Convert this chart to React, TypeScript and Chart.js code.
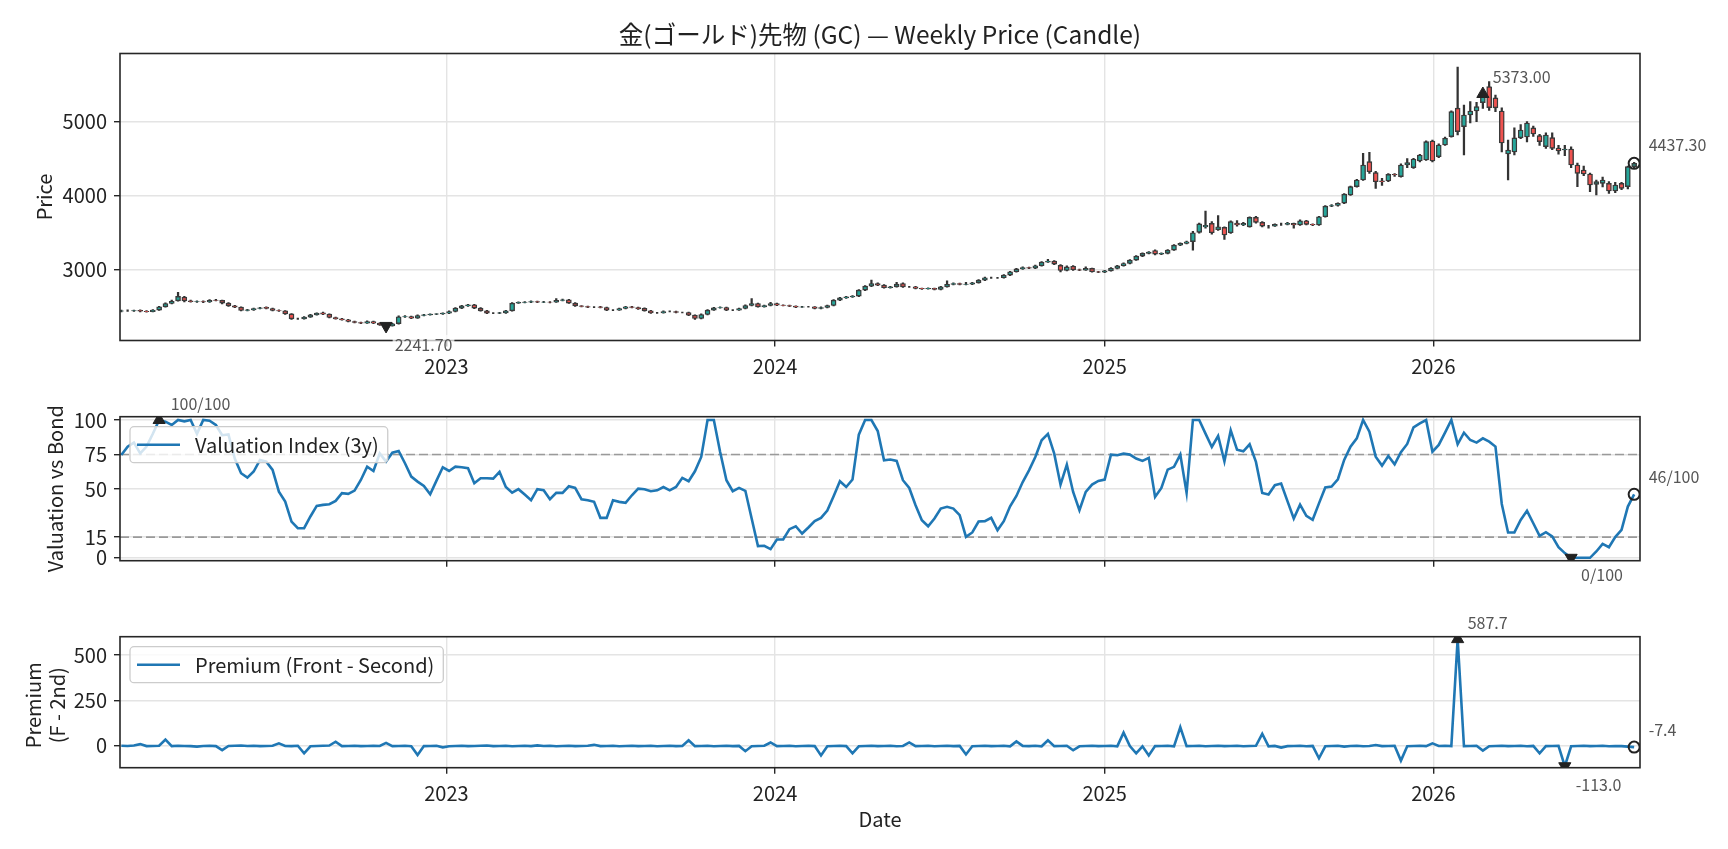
import React, { useEffect, useRef } from 'react';
import { Chart, registerables } from 'chart.js';

Chart.register(...registerables);

const FONT = '"Noto Sans CJK JP", "Noto Sans", sans-serif';
const TEXT = '#222222';
const ANN = '#555555';
const GRID = '#e4e4e4';
const SPINE = '#262626';
const BLUE = '#1f77b4';
const UP = '#26a69a';
const DOWN = '#ef5350';
const EDGE = '#3a3a3a';
const W = 1728;
const PLOT_LEFT = 120;
const PLOT_RIGHT = 1640;

const TITLE = '金(ゴールド)先物 (GC) — Weekly Price (Candle)';
const PRICE_LABEL = 'Price';
const VAL_LABEL = 'Valuation vs Bond';
const PREM_LABEL = ['Premium', '(F - 2nd)'];
const VAL_SERIES = 'Valuation Index (3y)';
const PREM_SERIES = 'Premium (Front - Second)';
const X_LABEL = 'Date';

const YEAR_TICKS = [2023, 2024, 2025, 2026];
const PRICE_TICKS = [3000, 4000, 5000];
const VAL_TICKS = [0, 15, 50, 75, 100];
const PREM_TICKS = [0, 250, 500];
const VAL_BANDS = [75, 15];

const OPEN = [
  2440, 2446, 2446, 2452, 2440, 2435, 2455, 2500, 2545, 2580,
  2630, 2582, 2570, 2572, 2565, 2590, 2586, 2550, 2513, 2495,
  2450, 2459, 2477, 2492, 2477, 2450, 2446, 2405, 2338, 2338,
  2360, 2392, 2420, 2401, 2356, 2338, 2324, 2302, 2288, 2279,
  2302, 2279, 2257, 2242, 2272, 2365, 2369, 2347, 2383, 2392,
  2401, 2405, 2414, 2437, 2482, 2513, 2527, 2482, 2446, 2414,
  2414, 2418, 2446, 2550, 2559, 2563, 2572, 2563, 2565, 2563,
  2586, 2595, 2550, 2513, 2504, 2495, 2500, 2490, 2455, 2455,
  2477, 2500, 2491, 2480, 2446, 2419, 2419, 2437, 2437, 2423,
  2423, 2387, 2342, 2396, 2455, 2486, 2491, 2455, 2455, 2477,
  2518, 2545, 2500, 2518, 2545, 2522, 2518, 2509, 2495, 2500,
  2500, 2477, 2491, 2518, 2590, 2621, 2635, 2644, 2725, 2779,
  2815, 2793, 2757, 2770, 2815, 2770, 2770, 2748, 2743, 2748,
  2734, 2770, 2802, 2815, 2802, 2806, 2824, 2860, 2892, 2892,
  2892, 2928, 2973, 3013, 3031, 3022, 3054, 3104, 3117, 3060,
  2990, 3048, 3000, 2995, 3018, 2973, 2968, 2986, 3018, 3054,
  3085, 3131, 3185, 3221, 3260, 3212, 3221, 3266, 3333, 3356,
  3380, 3505, 3580, 3626, 3540, 3572, 3500, 3630, 3604, 3580,
  3707, 3640, 3590, 3590, 3613, 3613, 3626, 3604, 3662, 3613,
  3604, 3716, 3860, 3868, 3900, 4010, 4122, 4212, 4460, 4311,
  4200, 4198, 4288, 4257, 4414, 4380, 4469, 4482, 4739, 4527,
  4685, 4797, 5183, 4932, 5090, 5144, 5257, 5473, 5320, 5144,
  4563, 4590, 4780, 4793, 4915, 4811, 4662, 4784, 4644, 4617,
  4630, 4414, 4347, 4293, 4153, 4167, 4167, 4063, 4167, 4122,
  4392,
];

const HIGH = [
  2455, 2458, 2456, 2460, 2448, 2462, 2508, 2552, 2590, 2694,
  2640, 2590, 2582, 2580, 2598, 2600, 2590, 2556, 2520, 2500,
  2466, 2484, 2494, 2500, 2482, 2458, 2450, 2410, 2348, 2368,
  2398, 2420, 2428, 2406, 2362, 2344, 2330, 2308, 2294, 2310,
  2306, 2284, 2262, 2276, 2378, 2382, 2374, 2390, 2398, 2406,
  2410, 2420, 2444, 2490, 2520, 2535, 2534, 2488, 2452, 2422,
  2426, 2452, 2556, 2566, 2570, 2580, 2578, 2574, 2570, 2612,
  2604, 2600, 2556, 2518, 2510, 2502, 2506, 2496, 2462, 2484,
  2506, 2506, 2496, 2486, 2452, 2426, 2444, 2444, 2442, 2430,
  2428, 2392, 2404, 2462, 2494, 2498, 2496, 2462, 2484, 2526,
  2610, 2550, 2524, 2560, 2550, 2528, 2522, 2514, 2506, 2506,
  2504, 2498, 2524, 2598, 2628, 2642, 2652, 2734, 2788, 2862,
  2822, 2800, 2778, 2830, 2822, 2776, 2776, 2754, 2756, 2754,
  2778, 2850, 2824, 2820, 2830, 2832, 2868, 2900, 2900, 2898,
  2936, 2980, 3020, 3038, 3036, 3062, 3112, 3140, 3124, 3070,
  3054, 3055, 3010, 3040, 3024, 2980, 2994, 3030, 3060, 3092,
  3138, 3192, 3230, 3246, 3268, 3228, 3274, 3340, 3364, 3386,
  3520, 3630, 3793, 3650, 3730, 3580, 3660, 3665, 3640, 3715,
  3720, 3650, 3600, 3620, 3630, 3640, 3632, 3675, 3668, 3620,
  3722, 3866, 3880, 3904, 4030, 4130, 4220, 4572, 4586, 4330,
  4236, 4300, 4300, 4430, 4500, 4505, 4560, 4740, 4750, 4700,
  4790, 5145, 5735, 5225, 5270, 5260, 5400, 5540, 5360, 5185,
  4752, 4915, 4960, 5000, 4940, 4830, 4850, 4850, 4680, 4680,
  4660, 4441, 4400, 4306, 4212, 4250, 4190, 4180, 4180, 4400,
  4450,
];

const LOW = [
  2432, 2436, 2438, 2432, 2428, 2430, 2450, 2494, 2540, 2575,
  2565, 2562, 2560, 2555, 2560, 2578, 2540, 2505, 2488, 2444,
  2444, 2452, 2470, 2470, 2444, 2438, 2398, 2330, 2328, 2332,
  2355, 2386, 2394, 2350, 2332, 2318, 2296, 2282, 2272, 2274,
  2272, 2250, 2236, 2238, 2266, 2356, 2340, 2342, 2378, 2386,
  2394, 2398, 2408, 2432, 2476, 2506, 2476, 2440, 2408, 2406,
  2408, 2412, 2440, 2544, 2552, 2556, 2555, 2556, 2554, 2558,
  2578, 2544, 2506, 2498, 2488, 2488, 2484, 2448, 2448, 2450,
  2472, 2485, 2466, 2440, 2412, 2412, 2414, 2430, 2416, 2416,
  2380, 2330, 2336, 2390, 2450, 2480, 2448, 2448, 2450, 2472,
  2512, 2494, 2494, 2512, 2516, 2512, 2502, 2488, 2490, 2494,
  2470, 2470, 2486, 2512, 2584, 2614, 2628, 2638, 2718, 2772,
  2786, 2750, 2750, 2764, 2762, 2762, 2742, 2736, 2738, 2728,
  2728, 2764, 2796, 2794, 2796, 2800, 2818, 2854, 2884, 2884,
  2886, 2922, 2966, 3006, 3014, 3016, 3048, 3098, 3070, 2970,
  2984, 2992, 2988, 2990, 2966, 2960, 2962, 2980, 3012, 3048,
  3080, 3126, 3178, 3214, 3200, 3204, 3214, 3260, 3326, 3350,
  3266, 3494, 3560, 3480, 3530, 3410, 3490, 3590, 3596, 3575,
  3630, 3580, 3560, 3584, 3600, 3606, 3560, 3598, 3606, 3596,
  3598, 3710, 3852, 3860, 3894, 4004, 4116, 4205, 4300, 4100,
  4140, 4190, 4260, 4250, 4380, 4370, 4455, 4475, 4455, 4515,
  4680, 4790, 4820, 4550, 4982, 5000, 5180, 5150, 5135, 4590,
  4212, 4550, 4770, 4725, 4800, 4680, 4640, 4620, 4560, 4540,
  4380, 4122, 4270, 4054, 4009, 4120, 4030, 4040, 4080, 4090,
  4380,
];

const CLOSE = [
  2446, 2446, 2448, 2440, 2435, 2455, 2500, 2545, 2575, 2640,
  2580, 2570, 2572, 2565, 2586, 2586, 2550, 2513, 2495, 2450,
  2459, 2477, 2486, 2477, 2450, 2446, 2405, 2338, 2338, 2360,
  2392, 2414, 2401, 2356, 2338, 2324, 2302, 2288, 2279, 2302,
  2279, 2257, 2241.7, 2270, 2365, 2369, 2347, 2383, 2392, 2401,
  2405, 2414, 2437, 2482, 2513, 2527, 2482, 2446, 2414, 2414,
  2418, 2446, 2550, 2559, 2563, 2572, 2563, 2565, 2563, 2586,
  2595, 2550, 2513, 2504, 2495, 2495, 2490, 2455, 2455, 2477,
  2500, 2491, 2473, 2446, 2419, 2419, 2437, 2437, 2423, 2423,
  2387, 2342, 2396, 2455, 2486, 2491, 2455, 2455, 2477, 2518,
  2545, 2500, 2518, 2545, 2522, 2518, 2509, 2495, 2500, 2500,
  2477, 2491, 2518, 2590, 2621, 2635, 2644, 2725, 2779, 2815,
  2793, 2757, 2770, 2806, 2770, 2770, 2748, 2743, 2748, 2734,
  2770, 2802, 2815, 2802, 2806, 2824, 2860, 2892, 2892, 2892,
  2928, 2973, 3013, 3031, 3022, 3054, 3104, 3117, 3077, 2990,
  3040, 3000, 2995, 3018, 2973, 2968, 2986, 3018, 3054, 3085,
  3131, 3185, 3221, 3239, 3212, 3221, 3266, 3333, 3356, 3378,
  3500, 3620, 3600, 3500, 3581, 3470, 3650, 3604, 3626, 3707,
  3640, 3590, 3590, 3613, 3613, 3626, 3604, 3662, 3613, 3604,
  3716, 3860, 3868, 3896, 4022, 4122, 4212, 4414, 4324, 4189,
  4189, 4288, 4279, 4414, 4446, 4495, 4550, 4730, 4469, 4685,
  4775, 5135, 4865, 5090, 5144, 5203, 5373, 5190, 5185, 4712,
  4617, 4780, 4887, 4982, 4833, 4730, 4820, 4640, 4604, 4630,
  4414, 4302, 4293, 4144, 4190, 4212, 4063, 4144, 4099, 4392,
  4437.3,
];

const VALUATION = [
  74.6, 80.7, 83.6, 75.8, 80.7, 90, 100, 98.8, 96.4, 100,
  99, 100, 90, 100, 99.5, 96.4, 89, 89.6, 72, 61.4,
  58.2, 62.6, 71, 69.8, 63.8, 48, 40.8, 26.3, 21.5, 21.5,
  30, 37.7, 38.4, 38.9, 41.3, 46.9, 46.4, 48.8, 56.5, 66.2,
  63, 75.8, 69.8, 76.3, 77.5, 68.6, 58.9, 55.3, 52.2, 46.1,
  56, 65.7, 63, 66.2, 65.7, 65, 54.1, 57.7, 57.7, 57.5,
  62.3, 51.4, 47.3, 49.8, 45.9, 41.8, 49.8, 49, 42.5, 47.1,
  47.1, 51.9, 50.7, 42.5, 41.8, 40.6, 29, 29, 41.8, 40.6,
  39.9, 45.4, 50.2, 49.8, 48.3, 49, 51.4, 49, 51.4, 58,
  55.6, 62.8, 73.2, 100, 100, 76.8, 56.3, 48.3, 50.7, 48.6,
  28.5, 8.5, 8.7, 6.3, 13.3, 13.3, 20.8, 22.9, 17.6, 22,
  26.6, 29, 34.3, 44.7, 55.6, 51.4, 56.8, 89.4, 100, 100,
  92, 70.8, 71.3, 70.3, 56.3, 50.7, 38.2, 27.3, 22.9, 28.5,
  35.7, 37, 35.7, 30.9, 15.2, 18.4, 26.3, 26.6, 29, 20,
  26.6, 37.4, 44.9, 55, 63.5, 73.2, 85.3, 89.9, 75.6, 53.1,
  67.6, 47.8, 34.5, 47.8, 53.1, 55.8, 56.8, 74.9, 74.4, 75.6,
  74.9, 72, 70.3, 72.5, 44.2, 50.7, 64, 66, 74.9, 47.1,
  100, 100, 90.1, 80.4, 88.4, 70, 92.5, 78.5, 77.3, 82.4,
  69.6, 47.1, 45.9, 52.7, 53.9, 41.1, 28.5, 38.6, 30.5, 27.6,
  39.5, 51, 51.7, 57, 71, 80.7, 86.7, 100, 91.5, 73.4,
  66.9, 73.9, 67.9, 76.6, 82.6, 94.7, 97.6, 100, 77, 81.9,
  90.8, 100, 82.4, 90.8, 85.5, 83.6, 86.7, 84.3, 80.7, 39.1,
  18.4, 18.4, 27.5, 34.1, 25.1, 15.9, 18.6, 15.5, 7.7, 3.4,
  0, 0, 0, 0, 4.6, 10.1, 7.7, 15, 20.3, 37.2,
  46.1,
];

const PREMIUM = [
  0, -1, 1, 9, -2, -1, 0, 34, -2, 0,
  -1, -2, -5, -1, 0, -2, -24, -1, 0, 1,
  -1, 0, -2, -1, 0, 13, -1, -2, 0, -42,
  -3, -1, 0, 1, 22, -2, -1, 0, -2, -1,
  0, -1, 16, -2, -1, 0, -3, -51, -2, -1,
  0, -9, -3, -1, 0, -2, -1, 0, 1, -2,
  -1, 0, -3, -1, 0, -2, 2, -1, 0, -3,
  -1, 0, -2, -1, 0, 5, -2, -1, 0, -3,
  -1, 0, -2, -1, 0, -3, -1, 0, -2, -1,
  30, -2, -1, 0, -3, -1, 0, -2, -1, -30,
  -3, -1, 0, 18, -2, -1, 0, -3, -1, 0,
  -2, -54, -3, -1, 0, -2, -42, -3, -1, 0,
  -2, -1, 0, -3, -1, 18, -2, -1, 0, -3,
  -1, 0, -2, -1, -48, -3, -1, 0, -2, -1,
  0, -3, 24, -1, -2, 0, -3, 30, -2, -1,
  0, -25, -3, -1, 0, -2, -1, 0, -3, 72,
  -2, -42, -3, -54, -2, -1, 0, -3, 102, -2,
  -1, 0, -3, -1, 0, -2, -1, 0, -3, -1,
  0, 66, -3, -1, -10, -2, -1, 0, -3, -1,
  -69, -3, -1, 0, -5, -1, 0, -3, -1, 4,
  -2, -1, 0, -82, -3, -1, 0, -2, 13, -1,
  0, -2, 587.7, -2, -1, 0, -27, -3, -1, 0,
  -2, -1, 0, -3, -1, -42, -2, -1, 0, -113,
  -3, -1, 0, -2, -1, 0, -3, -1, -2, -5,
  -7.4,
];

const DAY = 86400000;
const FIRST_WEEK = Date.UTC(2022, 0, 5);
const DATES = CLOSE.map((_, i) => FIRST_WEEK + i * 7 * DAY);
const X_MIN = Date.UTC(2022, 0, 3, 13);
const X_MAX = Date.UTC(2026, 7, 18, 12);

function argMax(a: number[]) {
  let k = 0;
  a.forEach((v, i) => { if (v > a[k]) k = i; });
  return k;
}
function argMin(a: number[]) {
  let k = 0;
  a.forEach((v, i) => { if (v < a[k]) k = i; });
  return k;
}

function makeX(showLabels: boolean, height: number) {
  return {
    type: 'linear',
    min: X_MIN,
    max: X_MAX,
    offset: false,
    afterBuildTicks: (s: any) => {
      s.ticks = YEAR_TICKS.map((y) => ({ value: Date.UTC(y, 0, 1) }));
    },
    afterFit: (s: any) => { s.height = height; },
    ticks: {
      autoSkip: false,
      maxRotation: 0,
      padding: 8,
      color: TEXT,
      font: { family: FONT, size: 20 },
      callback: (v: number) => (showLabels ? String(new Date(v).getUTCFullYear()) : ''),
    },
    grid: { color: GRID, lineWidth: 1.4, tickLength: 6, tickColor: SPINE, tickWidth: 1.4, offset: false },
    border: { display: false },
  };
}

function makeY(min: number, max: number, ticks: number[]) {
  return {
    type: 'linear',
    min,
    max,
    beginAtZero: false,
    afterBuildTicks: (s: any) => { s.ticks = ticks.map((v) => ({ value: v })); },
    afterFit: (s: any) => { s.width = PLOT_LEFT; },
    ticks: { padding: 7, color: TEXT, font: { family: FONT, size: 20 }, callback: (v: number) => String(v) },
    grid: { color: GRID, lineWidth: 1.4, tickLength: 6, tickColor: SPINE, tickWidth: 1.4 },
    border: { display: false },
  };
}

function markers(values: number[], maxI: number, minI: number) {
  const last = values.length - 1;
  const base = { type: 'line', showLine: false, clip: 0, pointBackgroundColor: '#222', pointBorderColor: '#222', pointBorderWidth: 1, pointRadius: 7, order: 0 };
  return [
    { ...base, data: [{ x: DATES[maxI], y: values[maxI] }], pointStyle: 'triangle' },
    { ...base, data: [{ x: DATES[minI], y: values[minI] }], pointStyle: 'triangle', pointRotation: 180 },
    { ...base, data: [{ x: DATES[last], y: values[last] }], pointStyle: 'circle', pointRadius: 5.5, pointBorderWidth: 2, pointBackgroundColor: 'rgba(0,0,0,0)' },
  ];
}

type Note = { x: number; y: number; text: string; dx: number; dy: number };
type Deco = {
  title?: string;
  yTitle: string[];
  yTitleX: number[];
  yTitleDy?: number;
  xTitle?: string;
  legend?: { label: string; color: string };
  notes: Note[];
};

function decoPlugin(d: Deco) {
  return {
    id: 'deco',
    afterDatasetsDraw(chart: any) {
      const { ctx, chartArea: a, scales } = chart;
      ctx.save();
      ctx.strokeStyle = SPINE;
      ctx.lineWidth = 1.6;
      ctx.strokeRect(a.left, a.top, a.right - a.left, a.bottom - a.top);

      ctx.font = `16px ${FONT}`;
      ctx.textBaseline = 'middle';
      ctx.textAlign = 'left';
      for (const n of d.notes) {
        const px = scales.x.getPixelForValue(n.x) + n.dx;
        const py = scales.y.getPixelForValue(n.y) + n.dy;
        const w = ctx.measureText(n.text).width;
        ctx.fillStyle = 'rgba(255,255,255,0.7)';
        ctx.fillRect(px - 2, py - 10, w + 4, 20);
        ctx.fillStyle = ANN;
        ctx.fillText(n.text, px, py);
      }

      if (d.legend) {
        ctx.font = `20px ${FONT}`;
        const tw = ctx.measureText(d.legend.label).width;
        const x0 = a.left + 10;
        const y0 = a.top + 10;
        const h = 36;
        const w = 65 + tw + 9;
        ctx.beginPath();
        ctx.roundRect(x0, y0, w, h, 4);
        ctx.fillStyle = 'rgba(255,255,255,0.8)';
        ctx.fill();
        ctx.strokeStyle = '#cccccc';
        ctx.lineWidth = 1.3;
        ctx.stroke();
        ctx.beginPath();
        ctx.moveTo(x0 + 7, y0 + h / 2);
        ctx.lineTo(x0 + 50, y0 + h / 2);
        ctx.strokeStyle = d.legend.color;
        ctx.lineWidth = 2.6;
        ctx.stroke();
        ctx.fillStyle = TEXT;
        ctx.textBaseline = 'middle';
        ctx.fillText(d.legend.label, x0 + 65, y0 + h / 2 + 1);
      }

      ctx.fillStyle = TEXT;
      ctx.textAlign = 'center';
      ctx.textBaseline = 'middle';
      ctx.font = `20px ${FONT}`;
      d.yTitle.forEach((t, k) => {
        ctx.save();
        ctx.translate(a.left + d.yTitleX[k], (a.top + a.bottom) / 2 + (d.yTitleDy || 0));
        ctx.rotate(-Math.PI / 2);
        ctx.fillText(t, 0, 0);
        ctx.restore();
      });
      if (d.xTitle) {
        ctx.fillText(d.xTitle, (a.left + a.right) / 2, a.bottom + 51.3);
      }
      if (d.title) {
        ctx.font = `24.5px ${FONT}`;
        ctx.fillText(d.title, (a.left + a.right) / 2, a.top - 18.5);
      }
      ctx.restore();
    },
  };
}

const baseOptions = (padTop: number) => ({
  responsive: true,
  maintainAspectRatio: false,
  animation: false,
  events: [],
  layout: { padding: { left: 0, right: W - PLOT_RIGHT, top: padTop, bottom: 0 } },
  plugins: { legend: { display: false }, title: { display: false }, tooltip: { enabled: false } },
});

function priceConfig(): any {
  const maxI = argMax(CLOSE);
  const minI = argMin(CLOSE);
  const last = CLOSE.length - 1;
  return {
    type: 'bar',
    data: {
      datasets: [
        ...markers(CLOSE, maxI, minI),
        {
          type: 'bar',
          data: DATES.map((t, i) => ({ x: t, y: [OPEN[i], CLOSE[i]] })),
          backgroundColor: DATES.map((_, i) => (CLOSE[i] >= OPEN[i] ? UP : DOWN)),
          borderColor: EDGE,
          borderWidth: 1.4,
          borderSkipped: false,
          barThickness: 5,
          grouped: false,
          order: 1,
        },
        {
          type: 'bar',
          data: DATES.map((t, i) => ({ x: t, y: [LOW[i], HIGH[i]] })),
          backgroundColor: '#333333',
          borderWidth: 0,
          barThickness: 1.6,
          grouped: false,
          order: 2,
        },
      ],
    },
    options: {
      ...baseOptions(53.5),
      scales: { x: makeX(true, 39.5), y: makeY(2045, 5920, PRICE_TICKS) },
    },
    plugins: [
      decoPlugin({
        title: TITLE,
        yTitle: [PRICE_LABEL],
        yTitleX: [-76],
        notes: [
          { x: DATES[maxI], y: CLOSE[maxI], text: CLOSE[maxI].toFixed(2), dx: 10, dy: -17.4 },
          { x: DATES[minI], y: CLOSE[minI], text: CLOSE[minI].toFixed(2), dx: 8.6, dy: 19 },
          { x: DATES[last], y: CLOSE[last], text: CLOSE[last].toFixed(2), dx: 14.5, dy: -18 },
        ],
      }),
    ],
  };
}

function valuationConfig(): any {
  const maxI = argMax(VALUATION);
  const minI = argMin(VALUATION);
  const last = VALUATION.length - 1;
  const fmt = (v: number) => `${Math.round(v)}/100`;
  return {
    type: 'line',
    data: {
      datasets: [
        ...markers(VALUATION, maxI, minI),
        {
          label: VAL_SERIES,
          data: DATES.map((t, i) => ({ x: t, y: VALUATION[i] })),
          borderColor: BLUE,
          borderWidth: 2.6,
          pointRadius: 0,
          order: 1,
        },
        ...VAL_BANDS.map((b) => ({
          data: [{ x: X_MIN, y: b }, { x: X_MAX, y: b }],
          borderColor: '#9a9a9a',
          borderDash: [9, 4],
          borderWidth: 1.6,
          pointRadius: 0,
          order: 2,
        })),
      ],
    },
    options: {
      ...baseOptions(36.7),
      scales: { x: makeX(false, 39.3), y: makeY(-2.1, 102.4, VAL_TICKS) },
    },
    plugins: [
      decoPlugin({
        yTitle: [VAL_LABEL],
        yTitleX: [-65],
        legend: { label: VAL_SERIES, color: BLUE },
        notes: [
          { x: DATES[maxI], y: VALUATION[maxI], text: fmt(VALUATION[maxI]), dx: 11.6, dy: -16 },
          { x: DATES[minI], y: VALUATION[minI], text: fmt(VALUATION[minI]), dx: 10, dy: 17 },
          { x: DATES[last], y: VALUATION[last], text: fmt(VALUATION[last]), dx: 14.5, dy: -17.7 },
        ],
      }),
    ],
  };
}

function premiumConfig(): any {
  const maxI = argMax(PREMIUM);
  const minI = argMin(PREMIUM);
  const last = PREMIUM.length - 1;
  return {
    type: 'line',
    data: {
      datasets: [
        ...markers(PREMIUM, maxI, minI),
        {
          label: PREM_SERIES,
          data: DATES.map((t, i) => ({ x: t, y: PREMIUM[i] })),
          borderColor: BLUE,
          borderWidth: 2.6,
          pointRadius: 0,
          order: 1,
        },
      ],
    },
    options: {
      ...baseOptions(36.7),
      scales: { x: makeX(true, 81.3), y: makeY(-121, 601, PREM_TICKS) },
    },
    plugins: [
      decoPlugin({
        yTitle: PREM_LABEL,
        yTitleX: [-86.5, -62.5],
        yTitleDy: 3,
        xTitle: X_LABEL,
        legend: { label: PREM_SERIES, color: BLUE },
        notes: [
          { x: DATES[maxI], y: PREMIUM[maxI], text: PREMIUM[maxI].toFixed(1), dx: 10, dy: -16 },
          { x: DATES[minI], y: PREMIUM[minI], text: PREMIUM[minI].toFixed(1), dx: 11, dy: 18.5 },
          { x: DATES[last], y: PREMIUM[last], text: PREMIUM[last].toFixed(1), dx: 14.5, dy: -17 },
        ],
      }),
    ],
  };
}

function Panel({ top, height, build }: { top: number; height: number; build: () => any }) {
  const ref = useRef<HTMLCanvasElement>(null);
  useEffect(() => {
    const chart = new Chart(ref.current as HTMLCanvasElement, build());
    return () => chart.destroy();
  }, []);
  return (
    <div style={{ position: 'absolute', left: 0, top, width: W, height }}>
      <canvas ref={ref} />
    </div>
  );
}

export default function App() {
  return (
    <div style={{ position: 'absolute', left: 0, top: 0, width: W, height: 849, background: '#ffffff', overflow: 'hidden' }}>
      <Panel top={0} height={380} build={priceConfig} />
      <Panel top={380} height={220} build={valuationConfig} />
      <Panel top={600} height={249} build={premiumConfig} />
    </div>
  );
}
